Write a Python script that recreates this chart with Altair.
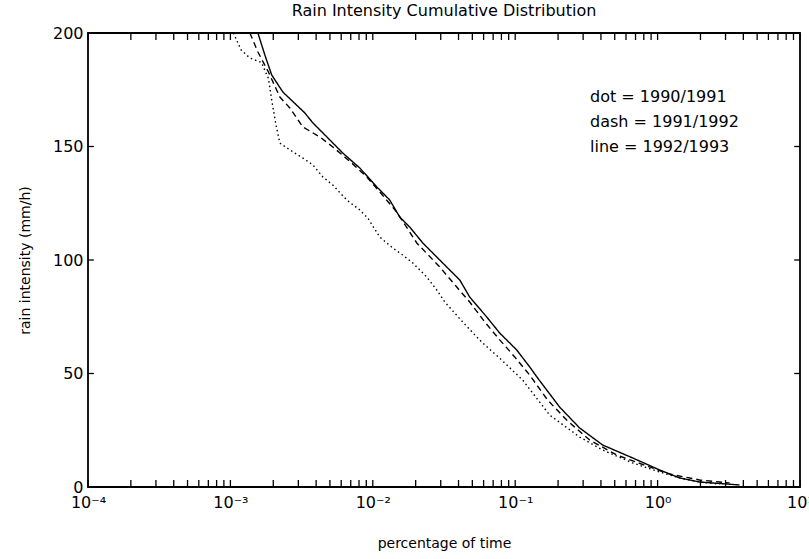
import altair as alt
import pandas as pd

# 1990/1991 (dot)
dot_x = [1.05e-3, 1.19e-3, 1.37e-3, 1.65e-3, 1.85e-3, 1.95e-3, 2.09e-3, 2.225e-3,
         2.615e-3, 3.227e-3, 3.793e-3, 4.457e-3, 5.239e-3, 6.57e-3, 8.11e-3, 9.22e-3,
         1.119e-2, 1.381e-2, 1.623e-2, 1.909e-2, 2.393e-2, 2.812e-2, 3.201e-2, 4.28e-2,
         5.37e-2, 6.11e-2, 8.04e-2, 0.1129, 0.1746, 0.2836, 0.4111, 0.6677,
         1.033, 1.427, 1.971, 2.72]
dot_y = [200, 192.5, 189, 187, 180, 170.5, 159.5, 151.5,
         148.5, 144.9, 141.9, 136.6, 133.0, 126.4, 122.0, 118.5,
         110.1, 105.3, 102.2, 98.7, 92.5, 86.8, 81.5, 72.7,
         66.1, 62.6, 55.9, 47.1, 31.7, 22.0, 16.3, 10.6,
         6.6, 4.0, 2.2, 1.3]

# 1991/1992 (dash)
dash_x = [1.371e-3, 1.56e-3, 1.85e-3, 2.225e-3, 2.615e-3, 3.227e-3, 4.25e-3, 5.239e-3,
          7.12e-3, 9.08e-3, 1.119e-2, 1.474e-2, 2.036e-2, 2.953e-2, 3.886e-2, 4.79e-2,
          6.11e-2, 7.79e-2, 9.92e-2, 0.1264, 0.169, 0.2298, 0.3333, 0.5156,
          0.837, 1.214, 1.971, 3.2]
dash_y = [200, 191.6, 182.8, 171.8, 167.0, 158.6, 154.2, 149.8,
          142.7, 136.6, 130.0, 121.1, 107.5, 96.9, 88.1, 81.5,
          72.7, 64.8, 57.3, 49.3, 38.3, 29.5, 20.7, 14.1,
          9.3, 5.7, 3.1, 1.8]

# 1992/1993 (line)
line_x = [1.56e-3, 1.746e-3, 1.95e-3, 2.335e-3, 3.33e-3, 3.793e-3, 4.99e-3, 6.16e-3,
          8.11e-3, 1.067e-2, 1.316e-2, 1.547e-2, 1.818e-2, 2.244e-2, 3.306e-2, 4.08e-2,
          4.79e-2, 6.31e-2, 7.79e-2, 0.1024, 0.1264, 0.1438, 0.2052, 0.2836,
          0.4111, 0.6677, 1.033, 1.427, 1.971, 3.76]
line_y = [200, 190.3, 181.5, 174.0, 164.8, 160.4, 152.9, 147.1,
          140.5, 132.2, 126.4, 118.9, 114.5, 107.5, 96.9, 91.2,
          83.7, 74.9, 67.8, 60.4, 52.9, 48.0, 35.2, 26.0,
          18.5, 12.8, 7.5, 4.0, 2.2, 0.9]

series_names = ["dot", "dash", "line"]
legend_lines = ["dot = 1990/1991", "dash = 1991/1992", "line = 1992/1993"]
legend_y = [171.8, 160.8, 149.8]
decades = [1e-4, 1e-3, 1e-2, 1e-1, 1, 10]
y_ticks = [0, 50, 100, 150, 200]

rows = []
for name, xs, ys in [("dot", dot_x, dot_y), ("dash", dash_x, dash_y), ("line", line_x, line_y)]:
    for i, (xv, yv) in enumerate(zip(xs, ys)):
        rows.append({"series": name, "x": xv, "y": yv, "i": i})
df = pd.DataFrame(rows)

FONT = "DejaVu Sans"
xscale = alt.Scale(type="log", domain=[1e-4, 10], nice=False)
yscale = alt.Scale(domain=[0, 200], nice=False)

label_expr = ("['10\u207b\u2074','10\u207b\u00b3','10\u207b\u00b2','10\u207b\u00b9','10\u2070','10\u00b9']"
              "[round(log(datum.value)/LN10)+4]")

xaxis = alt.Axis(values=decades, labelExpr=label_expr, title="percentage of time",
                 ticks=False, domain=False, grid=False, labelFontSize=16,
                 labelPadding=7, titlePadding=26, titleFontSize=14,
                 titleFontWeight="normal", labelColor="black", titleColor="black",
                 labelFlush=False)
yaxis = alt.Axis(values=y_ticks, title="rain intensity (mm/h)", ticks=False,
                 domain=False, grid=False, labelFontSize=16, labelPadding=5,
                 titlePadding=20, titleFontSize=14, titleFontWeight="normal",
                 labelColor="black", titleColor="black")

lines = alt.Chart(df).mark_line(color="black", strokeWidth=1.4, clip=True).encode(
    x=alt.X("x:Q", scale=xscale, axis=xaxis),
    y=alt.Y("y:Q", scale=yscale, axis=yaxis),
    strokeDash=alt.StrokeDash("series:N",
                              scale=alt.Scale(domain=series_names,
                                              range=[[1.5, 3], [6, 4], [1, 0]]),
                              legend=None),
    detail="series:N",
    order="i:Q",
)

# ticks along the log x axis (inside, bottom and top)
tick_vals = [k * 10.0 ** d for d in range(-4, 1) for k in range(1, 10)] + [10.0]
tick_df = pd.DataFrame({"x": tick_vals})
bot_ticks = alt.Chart(tick_df).mark_rule(color="black", strokeWidth=1.3).encode(
    x=alt.X("x:Q", scale=xscale, axis=xaxis),
    y=alt.value(454), y2=alt.value(447))
top_ticks = alt.Chart(tick_df).mark_rule(color="black", strokeWidth=1.3).encode(
    x=alt.X("x:Q", scale=xscale, axis=xaxis),
    y=alt.value(0), y2=alt.value(7))

yt_df = pd.DataFrame({"x": [1e-4, 1e-4, 1e-4, 10.0, 10.0, 10.0],
                      "x2": [1.1e-4, 1.1e-4, 1.1e-4, 9.1, 9.1, 9.1],
                      "y": [50, 100, 150, 50, 100, 150]})
yticks = alt.Chart(yt_df).mark_rule(color="black", strokeWidth=1.3).encode(
    x=alt.X("x:Q", scale=xscale, axis=xaxis), x2="x2:Q",
    y=alt.Y("y:Q", scale=yscale, axis=yaxis))

leg_df = pd.DataFrame({"t": legend_lines, "y": legend_y})
legend = alt.Chart(leg_df).mark_text(align="left", baseline="middle", fontSize=16,
                                     font=FONT, color="black").encode(
    x=alt.value(502),
    y=alt.Y("y:Q", scale=yscale, axis=yaxis),
    text="t:N")

chart = alt.layer(lines, bot_ticks, top_ticks, yticks, legend).properties(
    width=712, height=454,
    title=alt.TitleParams("Rain Intensity Cumulative Distribution", fontSize=16,
                          fontWeight="normal", font=FONT, offset=6, color="black"),
    autosize=alt.AutoSizeParams(type="none"),
    padding={"left": 88, "top": 33, "right": 9, "bottom": 72},
).configure(font=FONT).configure_view(stroke="black", strokeWidth=1.8)

chart.save("out.html", embed_options={"renderer": "svg", "actions": False})
